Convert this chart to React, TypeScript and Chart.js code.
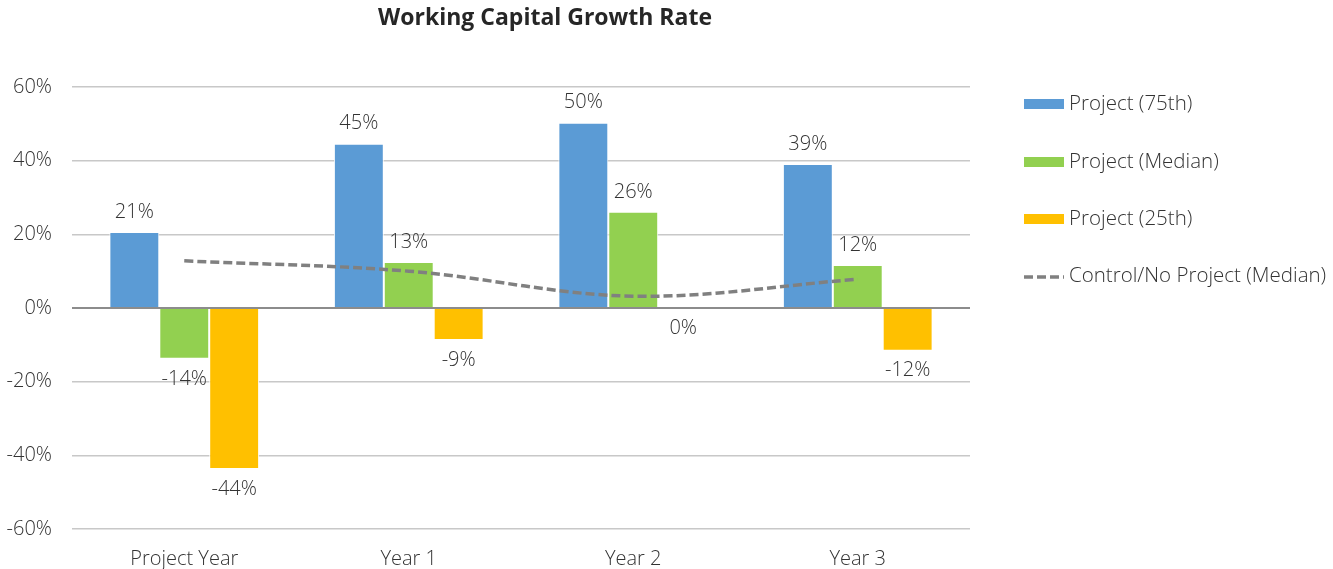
import React, { useEffect, useRef } from "react";
import { Chart, registerables } from "chart.js";

Chart.register(...registerables);

const TITLE = "Working Capital Growth Rate";
const categories = ["Project Year", "Year 1", "Year 2", "Year 3"];
const project75 = [20.6, 44.6, 50.3, 39.1];
const projectMedian = [-13.8, 12.5, 26.1, 11.7];
const project25 = [-43.7, -8.7, 0, -11.6];
const controlMedian = [12.8, 10.0, 3.2, 7.8];
const yTicks = [-60, -40, -20, 0, 20, 40, 60];

const FONT = "'Open Sans', sans-serif";
const TEXT = "#333333";

const labelPlugin = {
  id: "barLabels",
  afterDatasetsDraw(chart: any) {
    const ctx = chart.ctx;
    ctx.save();
    ctx.font = `300 20px ${FONT}`;
    ctx.fillStyle = TEXT;
    ctx.textAlign = "center";
    ctx.textBaseline = "middle";
    chart.data.datasets.forEach((ds: any, di: number) => {
      if (ds.type === "line") return;
      const meta = chart.getDatasetMeta(di);
      meta.data.forEach((el: any, i: number) => {
        const v = ds.data[i];
        const txt = Math.round(v) + "%";
        const y = v > 0 ? el.y - 20 : el.y + 20;
        ctx.fillText(txt, el.x, y);
      });
    });
    ctx.restore();
  },
};

const titleLegendPlugin = {
  id: "titleLegend",
  afterDraw(chart: any) {
    const ctx = chart.ctx;
    ctx.save();
    ctx.font = `bold 23px ${FONT}`;
    ctx.fillStyle = "#262626";
    ctx.textAlign = "center";
    ctx.textBaseline = "middle";
    ctx.fillText(TITLE, 545, 18);

    const x0 = 1024;
    const ys = [104, 162, 219, 276];
    ctx.font = `300 20.5px ${FONT}`;
    ctx.textAlign = "left";
    chart.data.datasets.forEach((ds: any, i: number) => {
      const y = ys[i];
      if (ds.type === "line") {
        ctx.strokeStyle = ds.borderColor;
        ctx.lineWidth = 3.5;
        ctx.setLineDash([9, 4]);
        ctx.beginPath();
        ctx.moveTo(x0, y + 1);
        ctx.lineTo(x0 + 40, y + 1);
        ctx.stroke();
        ctx.setLineDash([]);
      } else {
        ctx.fillStyle = ds.backgroundColor;
        ctx.fillRect(x0, y - 5, 40, 10);
      }
      ctx.fillStyle = TEXT;
      ctx.fillText(ds.label, x0 + 45, y);
    });
    ctx.restore();
  },
};

export default function App() {
  const ref = useRef<HTMLCanvasElement | null>(null);
  useEffect(() => {
    document.body.style.margin = "0";
    const chart = new Chart(ref.current as HTMLCanvasElement, {
      type: "bar",
      data: {
        labels: categories,
        datasets: [
          {
            label: "Project (75th)",
            data: project75,
            backgroundColor: "#5B9BD5",
            borderColor: "#ffffff",
            borderWidth: 1,
            order: 2,
          },
          {
            label: "Project (Median)",
            data: projectMedian,
            backgroundColor: "#92D050",
            borderColor: "#ffffff",
            borderWidth: 1,
            order: 2,
          },
          {
            label: "Project (25th)",
            data: project25,
            backgroundColor: "#FFC000",
            borderColor: "#ffffff",
            borderWidth: 1,
            order: 2,
          },
          {
            type: "line",
            label: "Control/No Project (Median)",
            data: controlMedian,
            borderColor: "#808080",
            backgroundColor: "#808080",
            borderWidth: 3.5,
            borderDash: [9, 4],
            pointRadius: 0,
            tension: 0.35,
            fill: false,
            order: 1,
          } as any,
        ],
      },
      options: {
        animation: false,
        responsive: false,
        maintainAspectRatio: false,
        layout: { padding: { left: 0, top: 87, right: 363, bottom: 0 } },
        datasets: {
          bar: { categoryPercentage: 0.667, barPercentage: 1 },
        },
        plugins: {
          legend: { display: false },
          title: { display: false },
          tooltip: { enabled: false },
        },
        scales: {
          x: {
            grid: { display: false },
            border: { display: false },
            ticks: {
              color: TEXT,
              font: { family: FONT, size: 20, weight: "300" as any },
              padding: 10,
            },
            afterFit: (s: any) => {
              s.height = 40;
            },
          },
          y: {
            min: -60,
            max: 60,
            afterBuildTicks: (s: any) => {
              s.ticks = yTicks.map((v) => ({ value: v }));
            },
            grid: {
              color: (c: any) => (c.tick && c.tick.value === 0 ? "#8c8c8c" : "#c8c8c8"),
              lineWidth: (c: any) => (c.tick && c.tick.value === 0 ? 2 : 1.5),
              drawTicks: false,
            },
            border: { display: false },
            ticks: {
              color: TEXT,
              font: { family: FONT, size: 20, weight: "300" as any },
              padding: 20,
              callback: (v: any) => v + "%",
            },
            afterFit: (s: any) => {
              s.width = 72;
            },
          },
        },
      },
      plugins: [labelPlugin, titleLegendPlugin],
    } as any);
    return () => chart.destroy();
  }, []);
  return (
    <div style={{ width: 1333, height: 569 }}>
      <canvas ref={ref} width={1333} height={569} />
    </div>
  );
}
